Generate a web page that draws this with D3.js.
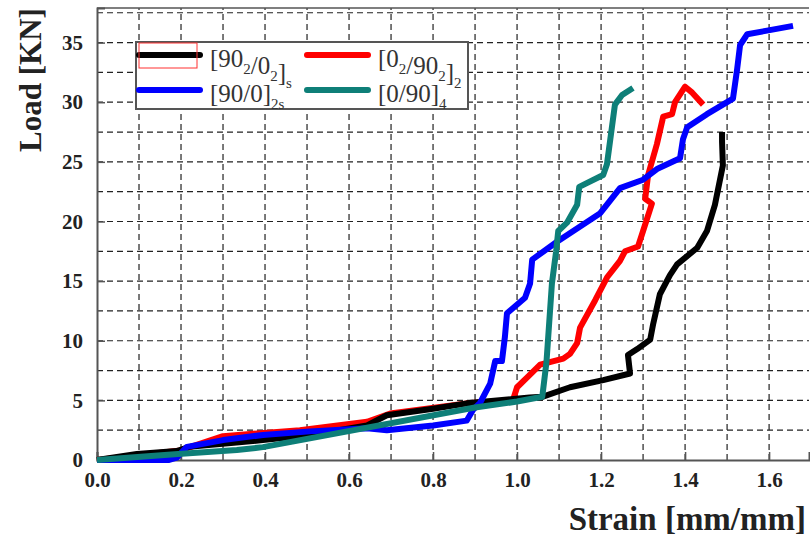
<!DOCTYPE html>
<html>
<head>
<meta charset="utf-8">
<script src="https://cdn.jsdelivr.net/npm/d3@7"></script>
<style>
  body { margin: 0; background: #fff; }
  svg { display: block; }
  text { font-family: "Liberation Serif", "Times New Roman", Times, serif; }
</style>
</head>
<body>
<svg id="chart"></svg>
<script>
// data: strain [mm/mm] and load [KN]
const blackStrain = [0, 0.095, 0.19, 0.22, 0.395, 0.507, 0.643, 0.69, 0.8, 0.88, 1.03, 1.06, 1.126, 1.205, 1.269, 1.264, 1.286, 1.317, 1.324, 1.34, 1.364, 1.381, 1.429, 1.452, 1.471, 1.49, 1.488, 1.488];
const blackLoad = [0, 0.5, 0.75, 1.1, 1.67, 2.1, 2.9, 3.75, 4.3, 4.75, 5.25, 5.3, 6.1, 6.7, 7.25, 8.8, 9.3, 10.1, 11.4, 13.9, 15.5, 16.4, 17.8, 19.2, 21.4, 24.7, 26.7, 27.5];

const redStrain = [0, 0.1, 0.198, 0.3, 0.483, 0.643, 0.698, 0.88, 0.99, 1.0, 1.026, 1.055, 1.11, 1.126, 1.143, 1.15, 1.186, 1.214, 1.245, 1.257, 1.288, 1.3, 1.321, 1.305, 1.312, 1.333, 1.348, 1.369, 1.376, 1.4, 1.417, 1.443];
const redLoad = [0, 0.4, 0.8, 2.0, 2.5, 3.2, 3.9, 4.75, 5.0, 6.1, 7.0, 8.0, 8.5, 8.9, 9.8, 11.1, 13.4, 15.3, 16.7, 17.5, 17.9, 19.2, 21.5, 21.9, 23.9, 26.5, 28.8, 29, 30, 31.3, 30.8, 29.8];

const blueStrain = [0, 0.17, 0.19, 0.214, 0.3, 0.395, 0.507, 0.643, 0.69, 0.8, 0.88, 0.895, 0.912, 0.936, 0.948, 0.964, 0.971, 0.976, 1.019, 1.031, 1.036, 1.095, 1.198, 1.245, 1.3, 1.333, 1.388, 1.395, 1.405, 1.452, 1.514, 1.524, 1.531, 1.548, 1.595, 1.657];
const blueLoad = [0, 0, 0.2, 1.1, 1.67, 2.1, 2.4, 2.67, 2.5, 2.9, 3.3, 4.2, 4.8, 6.4, 8.3, 8.3, 10.3, 12.3, 13.6, 14.8, 16.8, 18.3, 20.7, 22.8, 23.5, 24.4, 25.3, 26.9, 27.9, 29, 30.3, 32.8, 34.8, 35.7, 36, 36.4];

const tealStrain = [0, 0.193, 0.333, 0.395, 0.9, 1.0, 1.06, 1.07, 1.083, 1.093, 1.098, 1.119, 1.143, 1.148, 1.205, 1.214, 1.233, 1.25, 1.276];
const tealLoad = [0, 0.5, 0.83, 1.08, 4.4, 4.9, 5.3, 8.2, 14.8, 17.5, 19.2, 19.9, 21.4, 22.9, 23.9, 24.8, 29.8, 30.6, 31.2];

const xTicks = [0, 0.2, 0.4, 0.6, 0.8, 1.0, 1.2, 1.4, 1.6];
const yTicks = [0, 5, 10, 15, 20, 25, 30, 35];

const width = 810, height = 539;
const serif = "'Liberation Serif', 'Times New Roman', Times, serif";

const svg = d3.select("#chart")
  .attr("width", width)
  .attr("height", height)
  .attr("viewBox", [0, 0, width, height]);

const x = d3.scaleLinear([0, 1.695], [97, 809]);
const y = d3.scaleLinear([0, 37.9], [460, 8]);

// dashed grid
const grid = svg.append("g")
  .attr("stroke", "#222")
  .attr("stroke-width", 1.2)
  .attr("stroke-dasharray", "6,4");

grid.selectAll(".gx")
  .data(d3.range(1, 17).map(i => i / 10))
  .join("line")
  .attr("x1", d => x(d)).attr("x2", d => x(d))
  .attr("y1", y.range()[0]).attr("y2", y.range()[1]);

grid.selectAll(".gy")
  .data(d3.range(1, 16).map(i => i * 2.5))
  .join("line")
  .attr("x1", x.range()[0]).attr("x2", x.range()[1])
  .attr("y1", d => y(d)).attr("y2", d => y(d));

// axes
const xAxis = svg.append("g")
  .attr("transform", `translate(0,${y(0)})`)
  .call(d3.axisBottom(x).tickValues(xTicks).tickSize(-8).tickPadding(12).tickFormat(d3.format(".1f")));
const yAxis = svg.append("g")
  .attr("transform", `translate(${x(0)},0)`)
  .call(d3.axisLeft(y).tickValues(yTicks).tickSize(-8).tickPadding(14));

[xAxis, yAxis].forEach(a => {
  a.select(".domain").attr("stroke", "#555").attr("stroke-width", 2);
  a.selectAll(".tick line").attr("stroke", "#555").attr("stroke-width", 1.5);
  a.selectAll(".tick text")
    .attr("fill", "#222")
    .attr("font-family", serif)
    .attr("font-weight", "bold")
    .attr("font-size", 21);
});

// top border
svg.append("line")
  .attr("x1", x.range()[0]).attr("x2", x.range()[1])
  .attr("y1", y.range()[1]).attr("y2", y.range()[1])
  .attr("stroke", "#555").attr("stroke-width", 1.5);

// curves
const series = [
  {strain: redStrain, load: redLoad, color: "#ff0000"},
  {strain: blackStrain, load: blackLoad, color: "#000000"},
  {strain: blueStrain, load: blueLoad, color: "#0000ff"},
  {strain: tealStrain, load: tealLoad, color: "#0e7f78"}
];

const line = d3.line().x(d => x(d[0])).y(d => y(d[1]));

svg.append("g")
  .selectAll("path")
  .data(series)
  .join("path")
  .attr("fill", "none")
  .attr("stroke", d => d.color)
  .attr("stroke-width", 6)
  .attr("stroke-linejoin", "round")
  .attr("d", d => line(d3.zip(d.strain, d.load)));

// axis titles
svg.append("text")
  .attr("x", 806).attr("y", 530)
  .attr("text-anchor", "end")
  .attr("fill", "#222")
  .attr("font-family", serif)
  .attr("font-weight", "bold")
  .attr("font-size", 33)
  .text("Strain [mm/mm]");

svg.append("text")
  .attr("transform", "translate(41,80) rotate(-90)")
  .attr("text-anchor", "middle")
  .attr("fill", "#222")
  .attr("font-family", serif)
  .attr("font-weight", "bold")
  .attr("font-size", 31)
  .text("Load [KN]");

// legend
const legend = svg.append("g");
legend.append("rect")
  .attr("x", 136).attr("y", 42).attr("width", 332).attr("height", 67)
  .attr("fill", "#fff").attr("stroke", "#555").attr("stroke-width", 2);

const legendItems = [
  {color: "#000000", lx: 139, ly: 55, parts: [["[90", 0], ["2", 1], ["/0", 0], ["2", 1], ["]", 0], ["s", 1]]},
  {color: "#ff0000", lx: 307, ly: 55, parts: [["[0", 0], ["2", 1], ["/90", 0], ["2", 1], ["]", 0], ["2", 1]]},
  {color: "#0000ff", lx: 139, ly: 90, parts: [["[90/0]", 0], ["2s", 1]]},
  {color: "#0e7f78", lx: 307, ly: 90, parts: [["[0/90]", 0], ["4", 1]]}
];

legend.selectAll("line")
  .data(legendItems)
  .join("line")
  .attr("x1", d => d.lx).attr("x2", d => d.lx + 61)
  .attr("y1", d => d.ly).attr("y2", d => d.ly)
  .attr("stroke", d => d.color)
  .attr("stroke-width", 6)
  .attr("stroke-linecap", "round");

// selection box around first sample
legend.append("rect")
  .attr("x", 139).attr("y", 43).attr("width", 58).attr("height", 25)
  .attr("fill", "none").attr("stroke", "#ff3030").attr("stroke-width", 1);

const labels = legend.selectAll("text")
  .data(legendItems)
  .join("text")
  .attr("x", d => d.lx + 71)
  .attr("y", d => d.ly + 12)
  .attr("fill", "#333")
  .attr("font-family", serif)
  .attr("font-size", 25);

labels.each(function (d) {
  const t = d3.select(this);
  d.parts.forEach(([s, sub]) => {
    t.append("tspan")
      .attr("dy", sub ? 7 : null)
      .attr("font-size", sub ? 15 : null)
      .text(s);
    if (sub) t.append("tspan").attr("dy", -7).text("");
  });
});
</script>
</body>
</html>
